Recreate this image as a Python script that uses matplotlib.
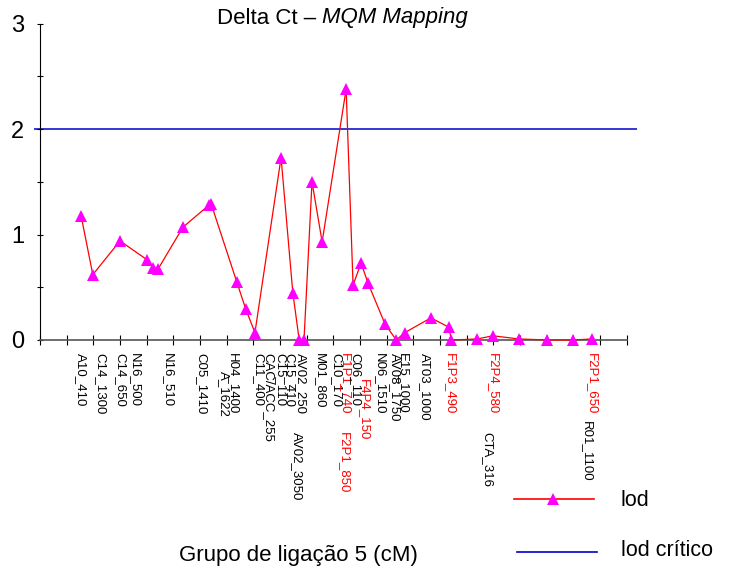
import matplotlib
matplotlib.use('Agg')
import matplotlib.pyplot as plt
from matplotlib.lines import Line2D
import numpy as np

plt.rcParams['font.family'] = ['Liberation Sans', 'DejaVu Sans']

# lod profile along the linkage group (cM, lod)
pos_cm = [7.7, 9.9, 15.0, 20.1, 21.2, 22.1, 26.8, 31.7, 32.1, 36.9, 38.6, 40.3,
          45.2, 47.4, 48.6, 49.5, 51.0, 52.9, 57.4, 58.7, 60.2, 61.5, 64.7, 66.8,
          68.4, 73.3, 76.7, 77.1, 82.0, 84.9, 89.8, 95.1, 99.9, 103.5]
lod = [1.18, 0.62, 0.94, 0.76, 0.68, 0.67, 1.07, 1.28, 1.29, 0.55, 0.29, 0.07,
       1.73, 0.45, 0.0, 0.0, 1.50, 0.93, 2.38, 0.52, 0.73, 0.54, 0.15, 0.0,
       0.07, 0.21, 0.12, 0.0, 0.01, 0.04, 0.01, 0.0, 0.0, 0.01]
lod_critico = 2.0

# marker names and where they sit on the map
marcadores = ['A10_410', 'C14_1300', 'C14_650', 'N16_500', 'N16_510', 'C05_1410',
              'A_1622', 'H04_1400', 'C11_400', 'CAC/ACC_255', 'C15_110', 'C15_410',
              'AV02_250', 'AV02_3050', 'M01_860', 'C10_170', 'F1P1_740', 'F2P1_850',
              'C06_110', 'F4P4_150', 'N06_1510', 'AV08_1750', 'E15_1000', 'AT03_1000',
              'F1P3_490', 'F2P4_580', 'CTA_316', 'F2P1_650', 'R01_1100']
marc_cm = [7.7, 11.25, 15.0, 17.8, 24.0, 30.2,
           34.5, 36.2, 40.9, 42.75, 45.0, 46.7,
           48.9, 48.2, 52.5, 55.5, 57.2, 57.0,
           59.1, 60.75, 63.75, 66.6, 68.1, 72.2,
           76.9, 84.9, 83.8, 103.5, 102.6]

# labels pushed down to avoid overlapping (points below the axis)
desloc = {'A_1622': 13, 'AV02_3050': 57, 'F2P1_850': 57, 'F4P4_150': 19,
          'CTA_316': 57, 'R01_1100': 49}

fig = plt.figure(figsize=(7.35, 5.73), dpi=100)
W, H = 735, 573
ax = fig.add_axes([34 / W, (H - 340) / H, (637 - 34) / W, (340 - 23.7) / H])

px_per_cm = 26.667 / 5
ax.set_xlim(-6 / px_per_cm, (637 - 40) / px_per_cm)
ax.set_ylim(0, 3)

ax.axhline(lod_critico, color='#0000cc', lw=1.1, zorder=1)
ax.plot(pos_cm, lod, color='#ff0000', lw=0.9, marker='^', markersize=9,
        markerfacecolor='#ff00ff', markeredgewidth=0, clip_on=False, zorder=3)

for s in ['top', 'right']:
    ax.spines[s].set_visible(False)
ax.spines['left'].set_position(('data', 0))
ax.spines['left'].set_bounds(0, 3)
ax.spines['left'].set_linewidth(0.8)
ax.spines['bottom'].set_bounds(0, 110)
ax.spines['bottom'].set_color('#555555')
ax.spines['bottom'].set_linewidth(1.2)

ax.set_yticks([0, 1, 2, 3])
ax.set_yticks(np.arange(0, 3.01, 0.5), minor=True)
ax.tick_params(axis='y', which='both', direction='inout', length=5, width=0.8,
               labelsize=17, pad=9)
ax.set_xticks(np.arange(0, 111, 5))
ax.set_xticklabels([])
ax.tick_params(axis='x', direction='inout', length=7, width=0.8)

for nome, cm in zip(marcadores, marc_cm):
    cor = 'red' if nome.startswith('F') and 'P' in nome else 'black'
    ax.annotate(nome, xy=(cm, 0), xycoords='data',
                xytext=(0, -9.4 - desloc.get(nome, 0)), textcoords='offset points',
                rotation=-90, ha='center', va='top', fontsize=9.5, color=cor)

# title with italic part
fig.text(316 / W, 1 - 18 / H, 'Delta Ct –', ha='right', va='center', fontsize=16)
fig.text(322 / W, 1 - 18 / H, 'MQM Mapping', ha='left', va='center', fontsize=16,
         style='italic')

fig.text(298 / W, 1 - 556 / H, 'Grupo de ligação 5 (cM)', ha='center', va='center',
         fontsize=16)

# legend drawn by hand below the plot
fig.add_artist(Line2D([514 / W, 594 / W], [1 - 499 / H] * 2, color='#ff0000', lw=1.2))
fig.add_artist(Line2D([553 / W], [1 - 499 / H], marker='^', markersize=9,
                      markerfacecolor='#ff00ff', markeredgewidth=0, linestyle='none'))
fig.add_artist(Line2D([517 / W, 597 / W], [1 - 552 / H] * 2, color='#0000cc', lw=1.2))
fig.text(621 / W, 1 - 500 / H, 'lod', ha='left', va='center', fontsize=15.5)
fig.text(621 / W, 1 - 551 / H, 'lod crítico', ha='left', va='center', fontsize=15.5)

fig.savefig('out.png', dpi=100)
